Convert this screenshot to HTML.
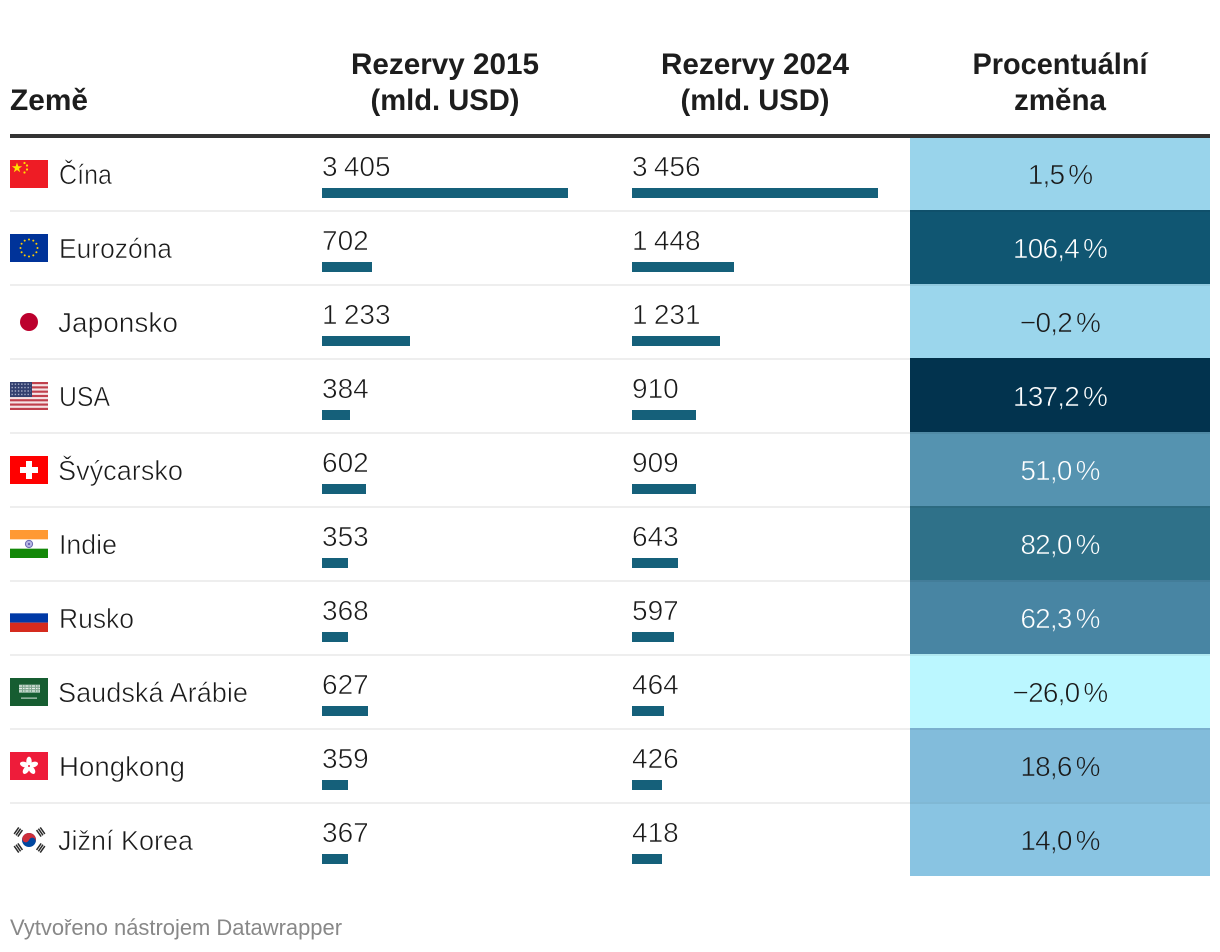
<!DOCTYPE html>
<html lang="cs">
<head>
<meta charset="utf-8">
<title>Rezervy 2015 a 2024</title>
<style>
html,body{margin:0;padding:0;background:#fff;width:1220px;height:952px;overflow:hidden}
svg{display:block}
text{font-family:"Liberation Sans",sans-serif}
.h{font-weight:700;font-size:30px;fill:#1d1d1d}
.c{font-size:28px;fill:#1a1a1a;stroke:#fff;stroke-width:.6px}
.v{font-size:28px;fill:#1a1a1a;stroke:#fff;stroke-width:.6px;word-spacing:-1.5px}
.p{font-size:28px;text-anchor:middle;stroke-width:.6px;letter-spacing:-.8px;word-spacing:-3px}
.f{font-size:22px;fill:#888}
</style>
</head>
<body>
<svg id="chart" width="1220" height="952" viewBox="0 0 1220 952" xmlns="http://www.w3.org/2000/svg">
  <rect width="1220" height="952" fill="#fff"/>
  <g>
    <text class="h" x="10" y="110" textLength="78" lengthAdjust="spacingAndGlyphs">Země</text>
    <text class="h" x="445" y="74" text-anchor="middle" textLength="188" lengthAdjust="spacingAndGlyphs">Rezervy 2015</text>
    <text class="h" x="445" y="110" text-anchor="middle" textLength="149" lengthAdjust="spacingAndGlyphs">(mld. USD)</text>
    <text class="h" x="755" y="74" text-anchor="middle" textLength="188" lengthAdjust="spacingAndGlyphs">Rezervy 2024</text>
    <text class="h" x="755" y="110" text-anchor="middle" textLength="149" lengthAdjust="spacingAndGlyphs">(mld. USD)</text>
    <text class="h" x="1060" y="74" text-anchor="middle" textLength="175" lengthAdjust="spacingAndGlyphs">Procentuální</text>
    <text class="h" x="1060" y="110" text-anchor="middle" textLength="92" lengthAdjust="spacingAndGlyphs">změna</text>
    <rect x="10" y="134" width="1200" height="4" fill="#333"/>
  </g>
  <g id="cells"></g>
  <g id="rules"></g>

  <g>
    <text class="c" x="59" y="184" textLength="53" lengthAdjust="spacingAndGlyphs">Čína</text>
    <text class="c" x="59" y="258" textLength="113" lengthAdjust="spacingAndGlyphs">Eurozóna</text>
    <text class="c" x="58" y="332" textLength="120" lengthAdjust="spacingAndGlyphs">Japonsko</text>
    <text class="c" x="59" y="406" textLength="51" lengthAdjust="spacingAndGlyphs">USA</text>
    <text class="c" x="58" y="480" textLength="125" lengthAdjust="spacingAndGlyphs">Švýcarsko</text>
    <text class="c" x="59" y="554" textLength="58" lengthAdjust="spacingAndGlyphs">Indie</text>
    <text class="c" x="59" y="628" textLength="75" lengthAdjust="spacingAndGlyphs">Rusko</text>
    <text class="c" x="58" y="702" textLength="190" lengthAdjust="spacingAndGlyphs">Saudská Arábie</text>
    <text class="c" x="59" y="776" textLength="126" lengthAdjust="spacingAndGlyphs">Hongkong</text>
    <text class="c" x="58" y="850" textLength="135" lengthAdjust="spacingAndGlyphs">Jižní Korea</text>
  </g>

  <g>
    <g transform="translate(10 160)">
      <rect width="38" height="28" fill="#ee1c25"/>
      <polygon points="7,2.5 8.3,6.2 12.2,6.2 9,8.6 10.2,12.3 7,10 3.8,12.3 5,8.6 1.8,6.2 5.7,6.2" fill="#ffe000"/>
      <circle cx="14.5" cy="3" r="1.1" fill="#ffe000"/><circle cx="17" cy="5.5" r="1.1" fill="#ffe000"/>
      <circle cx="17" cy="9.5" r="1.1" fill="#ffe000"/><circle cx="14.5" cy="12.5" r="1.1" fill="#ffe000"/>
    </g>
    <g transform="translate(10 234)">
      <rect width="38" height="28" fill="#039"/>
      <g fill="#fc0">
        <circle cx="19" cy="5.5" r="1"/><circle cx="23.3" cy="6.6" r="1"/><circle cx="26.4" cy="9.7" r="1"/>
        <circle cx="27.5" cy="14" r="1"/><circle cx="26.4" cy="18.3" r="1"/><circle cx="23.3" cy="21.4" r="1"/>
        <circle cx="19" cy="22.5" r="1"/><circle cx="14.7" cy="21.4" r="1"/><circle cx="11.6" cy="18.3" r="1"/>
        <circle cx="10.5" cy="14" r="1"/><circle cx="11.6" cy="9.7" r="1"/><circle cx="14.7" cy="6.6" r="1"/>
      </g>
    </g>
    <g transform="translate(10 308)">
      <circle cx="19" cy="14" r="9" fill="#bc002d"/>
    </g>
    <g transform="translate(10 382)">
      <rect width="38" height="28" fill="#f5e4e6"/>
      <g fill="#c0404c">
        <rect y="0" width="38" height="2.15"/><rect y="4.3" width="38" height="2.15"/><rect y="8.6" width="38" height="2.15"/>
        <rect y="12.9" width="38" height="2.15"/><rect y="17.2" width="38" height="2.15"/><rect y="21.5" width="38" height="2.15"/>
        <rect y="25.85" width="38" height="2.15"/>
      </g>
      <rect width="22" height="15" fill="#33406f"/>
      <path d="M1.5 2.2H21M1.5 5.6H21M1.5 9H21M1.5 12.4H21" stroke="#a7aec8" stroke-width="1.4" stroke-dasharray="1.4 1.8" fill="none"/>
    </g>
    <g transform="translate(10 456)">
      <rect width="38" height="28" fill="#f00"/>
      <rect x="10" y="11" width="18" height="6" fill="#fff"/><rect x="16" y="5" width="6" height="18" fill="#fff"/>
    </g>
    <g transform="translate(10 530)">
      <rect width="38" height="9.33" fill="#f93"/>
      <rect y="18.67" width="38" height="9.33" fill="#138808"/>
      <circle cx="19" cy="14" r="3.6" fill="#b4b4e2" stroke="#6a6ab0" stroke-width="1"/>
      <circle cx="19" cy="14" r="1" fill="#5050a8"/>
    </g>
    <g transform="translate(10 604)">
      <rect y="9.33" width="38" height="9.33" fill="#0039a6"/>
      <rect y="18.67" width="38" height="9.33" fill="#d52b1e"/>
    </g>
    <g transform="translate(10 678)">
      <rect width="38" height="28" fill="#165d31"/>
      <rect x="9" y="6.5" width="21" height="8.5" fill="#7fa890"/>
      <path d="M9 8H30M9 10.5H30M9 13H30" stroke="#e6efe9" stroke-width="1.3" stroke-dasharray="3 1 1.5 1" fill="none"/>
      <rect x="11" y="19.6" width="16" height="1" fill="#dfe9e3"/>
    </g>
    <g transform="translate(10 752)">
      <rect width="38" height="28" fill="#ee1c3a"/>
      <g fill="#fff">
        <ellipse cx="19" cy="9.2" rx="2.7" ry="4.6"/>
        <ellipse cx="19" cy="9.2" rx="2.7" ry="4.6" transform="rotate(72 19 14)"/>
        <ellipse cx="19" cy="9.2" rx="2.7" ry="4.6" transform="rotate(144 19 14)"/>
        <ellipse cx="19" cy="9.2" rx="2.7" ry="4.6" transform="rotate(216 19 14)"/>
        <ellipse cx="19" cy="9.2" rx="2.7" ry="4.6" transform="rotate(288 19 14)"/>
      </g>
      <circle cx="19" cy="14" r="1" fill="#ee1c3a"/>
    </g>
    <g transform="translate(10 826)">
      <circle cx="19" cy="14" r="7" fill="#0047a0"/>
      <path d="M12 14a7 7 0 0 1 14 0a3.5 3.5 0 0 0-7 0a3.5 3.5 0 0 1-7 0z" fill="#cd2e3a" transform="rotate(20 19 14)"/>
      <g fill="#2a2a2a">
        <g transform="translate(8.3 6) rotate(-55)"><rect x="-4" y="-3" width="8" height="1.5"/><rect x="-4" y="-.75" width="8" height="1.5"/><rect x="-4" y="1.5" width="8" height="1.5"/></g>
        <g transform="translate(30.7 6) rotate(55)"><rect x="-4" y="-3" width="8" height="1.5"/><rect x="-4" y="-.75" width="8" height="1.5"/><rect x="-4" y="1.5" width="8" height="1.5"/></g>
        <g transform="translate(8.3 22) rotate(55)"><rect x="-4" y="-3" width="8" height="1.5"/><rect x="-4" y="-.75" width="8" height="1.5"/><rect x="-4" y="1.5" width="8" height="1.5"/></g>
        <g transform="translate(30.7 22) rotate(-55)"><rect x="-4" y="-3" width="8" height="1.5"/><rect x="-4" y="-.75" width="8" height="1.5"/><rect x="-4" y="1.5" width="8" height="1.5"/></g>
      </g>
    </g>
  </g>

  <g id="col2015"></g>
  <g id="col2024"></g>

  <text class="f" x="10" y="935" textLength="332" lengthAdjust="spacingAndGlyphs">Vytvořeno nástrojem Datawrapper</text>
</svg>

<script>
const countries = ["Čína", "Eurozóna", "Japonsko", "USA", "Švýcarsko", "Indie", "Rusko", "Saudská Arábie", "Hongkong", "Jižní Korea"];
const reserves2015 = [3405, 702, 1233, 384, 602, 353, 368, 627, 359, 367];
const reserves2024 = [3456, 1448, 1231, 910, 909, 643, 597, 464, 426, 418];
const changePercent = [1.5, 106.4, -0.2, 137.2, 51.0, 82.0, 62.3, -26.0, 18.6, 14.0];

const NS = "http://www.w3.org/2000/svg";
const colorDomain = [-26, 0, 14, 18.6, 51, 62.3, 82, 106.4, 137.2];
const colorRange = ["#bbf7ff", "#9bd6ec", "#89c4e2", "#82bcdb", "#5593b0", "#4885a3", "#2f7189", "#105672", "#02334e"];

function hexToRgb(h) {
  return [parseInt(h.slice(1, 3), 16), parseInt(h.slice(3, 5), 16), parseInt(h.slice(5, 7), 16)];
}
function colorScale(v) {
  const last = colorDomain.length - 1;
  if (v <= colorDomain[0]) return colorRange[0];
  if (v >= colorDomain[last]) return colorRange[last];
  let k = 0;
  while (v > colorDomain[k + 1]) k++;
  const t = (v - colorDomain[k]) / (colorDomain[k + 1] - colorDomain[k]);
  const a = hexToRgb(colorRange[k]);
  const b = hexToRgb(colorRange[k + 1]);
  return "rgb(" + a.map(function (c, n) { return Math.round(c + (b[n] - c) * t); }).join(",") + ")";
}
function rowTop(i) { return i === 0 ? 138 : 210 + 74 * (i - 1); }
function rowBottom(i) { return 210 + 74 * i; }
function valueBaseline(i) { return 176 + 74 * i; }
function barTop(i) { return 188 + 74 * i; }
function pctBaseline(i) { return 184 + 74 * i; }
function barWidth(v, max) { return 2 * Math.round((Math.max(v, 0) / max) * 245 / 2); }
function fmtValue(v) { return String(v).replace(/\B(?=(\d{3})+$)/g, "\u00a0"); }
function fmtPct(v) { return (v < 0 ? "\u2212" : "") + Math.abs(v).toFixed(1).replace(".", ",") + "\u00a0%"; }
function slug(s) {
  return s.normalize("NFD").replace(/[\u0300-\u036f]/g, "").toLowerCase().replace(/\s+/g, "-");
}

const cellsG = document.getElementById("cells");
const rulesG = document.getElementById("rules");

countries.forEach(function (name, i) {
  const key = slug(name);
  const fill = colorScale(changePercent[i]);

  const cell = document.createElementNS(NS, "rect");
  
  
  cell.setAttribute("x", 910);
  cell.setAttribute("y", rowTop(i));
  cell.setAttribute("width", 300);
  cell.setAttribute("height", rowBottom(i) - rowTop(i));
  cell.setAttribute("fill", fill);
  cellsG.appendChild(cell);

  if (i > 0) {
    const rule = document.createElementNS(NS, "rect");
    
    
    rule.setAttribute("x", 10);
    rule.setAttribute("y", rowTop(i));
    rule.setAttribute("width", 900);
    rule.setAttribute("height", 2);
    rule.setAttribute("fill", "#eeeeee");
    rulesG.appendChild(rule);

    const tint = document.createElementNS(NS, "rect");
    
    
    tint.setAttribute("x", 910);
    tint.setAttribute("y", rowTop(i));
    tint.setAttribute("width", 300);
    tint.setAttribute("height", 2);
    tint.setAttribute("fill", "rgba(0,0,0,0.06)");
    rulesG.appendChild(tint);
  }

  const label = document.createElementNS(NS, "text");
  
  
  label.setAttribute("class", "p");
  label.setAttribute("x", 1060);
  label.setAttribute("y", pctBaseline(i));
  label.setAttribute("fill", changePercent[i] >= 40 ? "#ffffff" : "#1a1a1a");
  label.setAttribute("stroke", fill);
  label.textContent = fmtPct(changePercent[i]);
  cellsG.appendChild(label);
});

function drawColumn(groupId, values, x0, prefix) {
  const g = document.getElementById(groupId);
  const max = Math.max.apply(null, values);
  values.forEach(function (v, i) {
    const key = slug(countries[i]);

    const t = document.createElementNS(NS, "text");
    
    
    t.setAttribute("class", "v");
    t.setAttribute("x", x0);
    t.setAttribute("y", valueBaseline(i));
    t.textContent = fmtValue(v);
    g.appendChild(t);

    const b = document.createElementNS(NS, "rect");
    
    
    b.setAttribute("x", x0);
    b.setAttribute("y", barTop(i));
    b.setAttribute("width", barWidth(v, max));
    b.setAttribute("height", 10);
    b.setAttribute("fill", "#15607a");
    g.appendChild(b);
  });
}
drawColumn("col2015", reserves2015, 322, "reserves-2015");
drawColumn("col2024", reserves2024, 632, "reserves-2024");
</script>
</body>
</html>
